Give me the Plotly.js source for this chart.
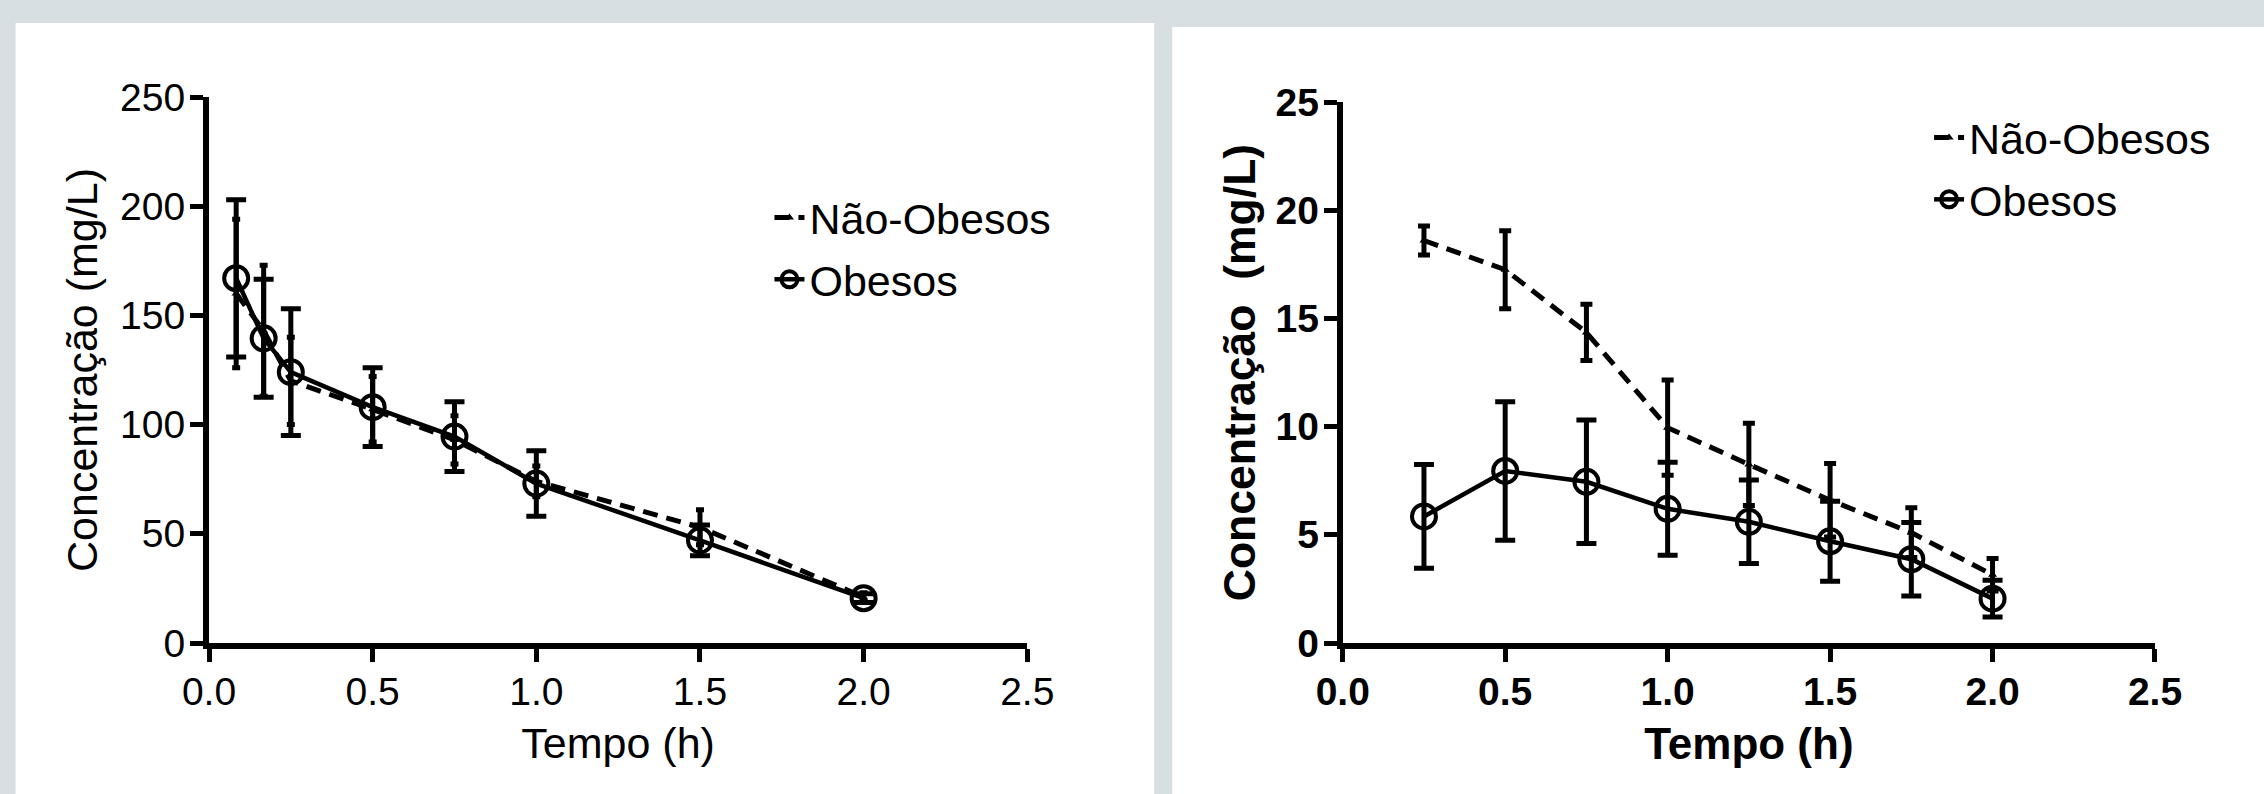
<!DOCTYPE html>
<html>
<head>
<meta charset="utf-8">
<script src="https://cdn.plot.ly/plotly-3.0.1.min.js"></script>
<style>
html,body{margin:0;padding:0;background:#d8dfe2;}
#chart{width:2264px;height:794px;}
</style>
</head>
<body>
<div id="chart"></div>
<script>
// ---- Left panel data (Tempo in h, Concentração in mg/L) ----
const tempoA = [0.083, 0.167, 0.25, 0.5, 0.75, 1.0, 1.5, 2.0];
const naoObesosA = [160, 143, 120, 107, 93, 74, 53, 21];
const naoObesosA_sd = [34, 30, 20, 15, 11, 7, 8, 2];
const obesosA = [167, 139.5, 124, 108, 94.5, 73, 47, 20.5];
const obesosA_sd = [36, 27, 29, 18, 16, 15, 7, 2];

// ---- Right panel data ----
const tempoB = [0.25, 0.5, 0.75, 1.0, 1.25, 1.5, 1.75, 2.0];
const naoObesosB = [18.6, 17.25, 14.35, 9.95, 8.25, 6.6, 5.1, 3.15];
const naoObesosB_sd = [0.67, 1.8, 1.3, 2.2, 1.9, 1.7, 1.15, 0.75];
const obesosB = [5.85, 7.95, 7.45, 6.2, 5.6, 4.7, 3.87, 2.05];
const obesosB_sd = [2.4, 3.2, 2.85, 2.15, 1.93, 1.85, 1.7, 0.85];

const xTicks = [0, 0.5, 1.0, 1.5, 2.0, 2.5];
const yTicksA = [0, 50, 100, 150, 200, 250];
const yTicksB = [0, 5, 10, 15, 20, 25];

const seriesNames = ['Não-Obesos', 'Obesos'];
const xTitle = 'Tempo (h)';
const yTitleA = 'Concentração (mg/L)';
const yTitleB = 'Concentração  (mg/L)';

const FONT = 'Liberation Sans, Arial, sans-serif';
const BLACK = '#000000';

function naoTrace(x, y, sd, xa, ya, legend, capw) {
  return {
    type: 'scatter', mode: 'lines+markers', name: seriesNames[0],
    x: x, y: y, xaxis: xa, yaxis: ya, legend: legend, legendgroup: 'nao' + legend,
    line: {color: BLACK, width: 5, dash: '15px,9px'},
    marker: {symbol: 'triangle-up', size: 8, color: BLACK},
    error_y: {type: 'data', array: sd, visible: true, color: BLACK, thickness: 5, width: capw},
    cliponaxis: false
  };
}
function obTrace(x, y, sd, xa, ya, legend, capw) {
  return {
    type: 'scatter', mode: 'lines+markers', name: seriesNames[1],
    x: x, y: y, xaxis: xa, yaxis: ya, legend: legend, legendgroup: 'ob' + legend,
    line: {color: BLACK, width: 4.5},
    marker: {symbol: 'circle-open', size: 24, color: BLACK, line: {width: 4, color: BLACK}},
    error_y: {type: 'data', array: sd, visible: true, color: BLACK, thickness: 5, width: capw},
    cliponaxis: false
  };
}

const data = [
  naoTrace(tempoA, naoObesosA, naoObesosA_sd, 'x', 'y', 'legend', 4),
  obTrace(tempoA, obesosA, obesosA_sd, 'x', 'y', 'legend', 10),
  naoTrace(tempoB, naoObesosB, naoObesosB_sd, 'x2', 'y2', 'legend2', 6),
  obTrace(tempoB, obesosB, obesosB_sd, 'x2', 'y2', 'legend2', 10)
];

function xAxis(domain, anchor, bold, tsize) {
  return {
    domain: domain, anchor: anchor, range: [0, 2.5], tickvals: xTicks, tickformat: '.1f',
    showline: true, linewidth: 6, linecolor: BLACK, mirror: false,
    ticks: 'outside', ticklen: 13, tickwidth: 5, tickcolor: BLACK,
    ticklabelstandoff: -4,
    showgrid: false, zeroline: false, fixedrange: true,
    tickfont: {family: FONT, size: 39, color: BLACK, weight: bold ? 'bold' : 'normal'},
    title: {text: xTitle, standoff: 18, font: {family: FONT, size: tsize, color: BLACK, weight: bold ? 'bold' : 'normal'}},
    automargin: false
  };
}
function yAxis(domain, anchor, rng, ticks, title, bold, tsize, standoff) {
  return {
    domain: domain, anchor: anchor, range: rng, tickvals: ticks,
    showline: true, linewidth: 6, linecolor: BLACK,
    ticks: 'outside', ticklen: 13, tickwidth: 5, tickcolor: BLACK,
    ticklabelstandoff: -3,
    showgrid: false, zeroline: false, fixedrange: true,
    tickfont: {family: FONT, size: 39, color: BLACK, weight: bold ? 'bold' : 'normal'},
    title: {text: title, standoff: standoff, font: {family: FONT, size: tsize, color: BLACK, weight: bold ? 'bold' : 'normal'}},
    automargin: false
  };
}

const layout = {
  width: 2264, height: 794,
  margin: {l: 208.5, r: 109, t: 97, b: 151, pad: 0},
  paper_bgcolor: '#d8dfe2',
  plot_bgcolor: 'rgba(0,0,0,0)',
  showlegend: true,
  font: {family: FONT, color: BLACK},
  xaxis: xAxis([0, 0.4205], 'y', false, 43),
  yaxis: yAxis([0, 1], 'x', [0, 250], yTicksA, yTitleA, false, 43, 11),
  xaxis2: xAxis([0.5826, 1], 'y2', true, 44),
  yaxis2: yAxis([0, 0.9908], 'x2', [0, 25], yTicksB, yTitleB, true, 44.5, 8),
  legend: {
    x: 0.2880, y: 0.8425, xanchor: 'left', yanchor: 'top',
    bgcolor: 'rgba(0,0,0,0)', borderwidth: 0, tracegroupgap: 3,
    font: {family: FONT, size: 43, color: BLACK}, itemwidth: 30
  },
  legend2: {
    x: 0.8839, y: 0.989, xanchor: 'left', yanchor: 'top',
    bgcolor: 'rgba(0,0,0,0)', borderwidth: 0, tracegroupgap: 3,
    font: {family: FONT, size: 43, color: BLACK}, itemwidth: 30
  },
  shapes: [
    {type: 'rect', xref: 'paper', yref: 'paper', x0: -0.0994, x1: 0.4857, y0: -0.35, y1: 1.1355,
     fillcolor: '#ffffff', line: {width: 0}, layer: 'below'},
    {type: 'rect', xref: 'paper', yref: 'paper', x0: 0.4950, x1: 1.1, y0: -0.35, y1: 1.1282,
     fillcolor: '#ffffff', line: {width: 0}, layer: 'below'}
  ]
};

Plotly.newPlot('chart', data, layout, {displayModeBar: false, staticPlot: true});
</script>
</body>
</html>
